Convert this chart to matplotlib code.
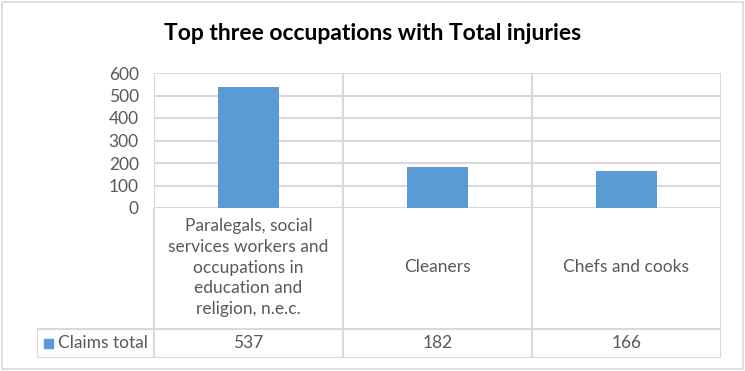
import numpy as np
import matplotlib.pyplot as plt
from matplotlib.patches import Rectangle

# data
categories = ["Paralegals, social\nservices workers and\noccupations in\neducation and\nreligion, n.e.c.",
              "Cleaners", "Chefs and cooks"]
claims_total = [537, 182, 166]
series_name = "Claims total"
y_ticks = [0, 100, 200, 300, 400, 500, 600]

BAR_COLOR = "#5b9bd5"
GRID_COLOR = "#d9d9d9"
TEXT_COLOR = "#595959"
FONT = "Lato"
FS = 12.5

W, H = 745, 371
fig = plt.figure(figsize=(W / 100, H / 100), dpi=100)


def fig_rect(x0, y0, x1, y1):
    # pixel box (top-left origin) -> figure fraction
    return [x0 / W, (H - y1) / H, (x1 - x0) / W, (y1 - y0) / H]


# outer chart border
fig.patches.append(Rectangle((2 / W, 2 / H), (W - 4) / W, (H - 4) / H, transform=fig.transFigure,
                             fill=False, edgecolor=GRID_COLOR, lw=1.2))

fig.text(373 / W, 1 - 34 / H, "Top three occupations with Total injuries", ha="center", va="center",
         fontsize=16.5, fontweight="bold", family=FONT, color="black")

# plot area
ax = fig.add_axes(fig_rect(154, 73, 721, 208))
x = np.arange(len(categories))
ax.bar(x, claims_total, width=0.32, color=BAR_COLOR, zorder=3)
ax.set_xlim(-0.5, len(categories) - 0.5)
ax.set_ylim(0, 600)
ax.set_yticks(y_ticks)
ax.set_xticks([])
ax.tick_params(axis="y", length=0, pad=11, labelsize=FS, labelcolor=TEXT_COLOR)
for lbl in ax.get_yticklabels():
    lbl.set_family(FONT)
ax.grid(axis="y", color=GRID_COLOR, lw=1.5, zorder=0)
for xv in np.arange(-0.5, len(categories), 1.0):
    ax.axvline(xv, color=GRID_COLOR, lw=1.5, zorder=1)
for s in ax.spines.values():
    s.set_visible(False)

# data table under the plot
tab = fig.add_axes(fig_rect(37, 208, 721, 358))
x_left = -0.5 - (154 - 37) / 189.0
tab.set_xlim(x_left, len(categories) - 0.5)
tab.set_ylim(0, 150)
tab.axis("off")
row_y = 29
for xv in np.arange(-0.5, len(categories), 1.0):
    tab.plot([xv, xv], [0, 150], color=GRID_COLOR, lw=1.5)
tab.plot([x_left, x_left], [0, row_y], color=GRID_COLOR, lw=1.5)
tab.plot([x_left, len(categories) - 0.5], [row_y, row_y], color=GRID_COLOR, lw=1.5)
tab.plot([x_left, len(categories) - 0.5], [0.5, 0.5], color=GRID_COLOR, lw=1.5)

for i, cat in enumerate(categories):
    tab.text(i, (row_y + 150) / 2 + 1, cat, ha="center", va="center", fontsize=FS,
             family=FONT, color=TEXT_COLOR, linespacing=1.35)
    tab.text(i, row_y / 2, str(claims_total[i]), ha="center", va="center", fontsize=FS,
             family=FONT, color=TEXT_COLOR)

tab.add_patch(Rectangle((x_left + 7 / 189, row_y / 2 - 4.5), 9 / 189, 9, color=BAR_COLOR))
tab.text(x_left + 21 / 189, row_y / 2, series_name, ha="left", va="center", fontsize=FS,
         family=FONT, color=TEXT_COLOR)

fig.savefig("out.png", dpi=100)
